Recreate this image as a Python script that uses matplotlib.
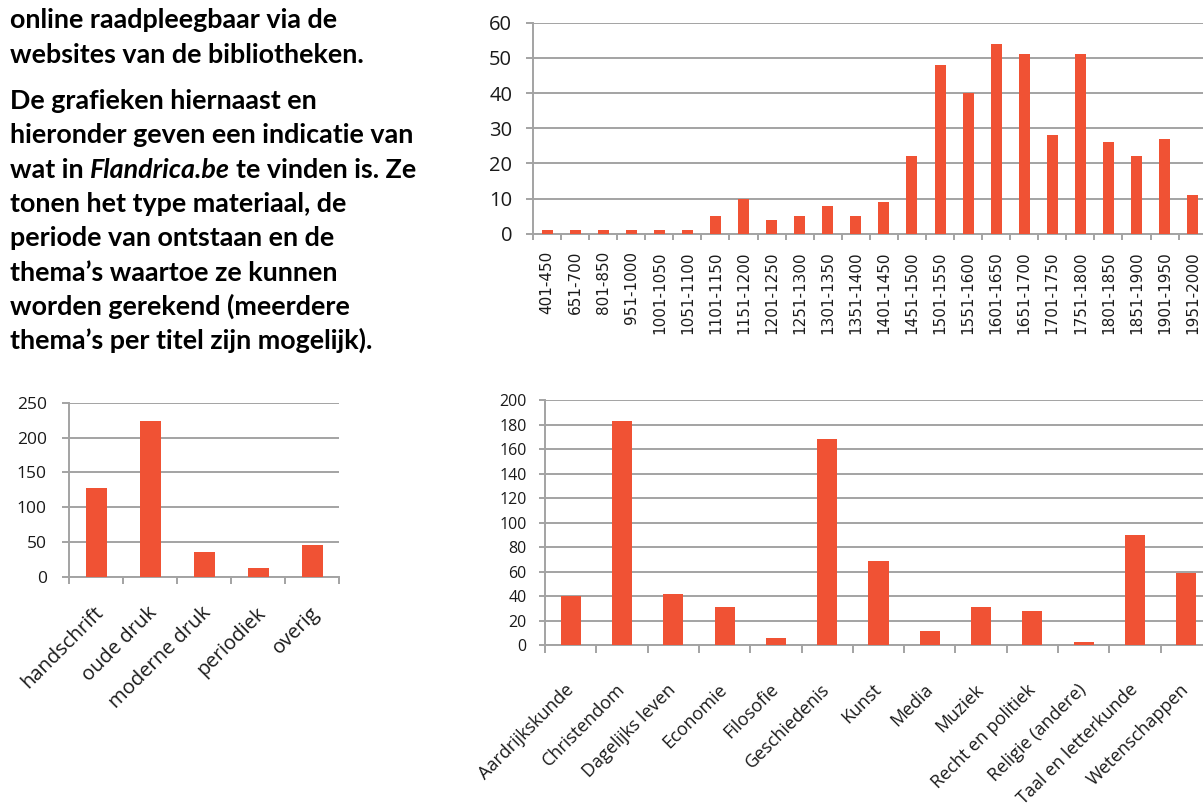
import matplotlib
matplotlib.use("Agg")
import matplotlib.pyplot as plt
import matplotlib.transforms as mtransforms
from matplotlib.text import Annotation

# ---------------- data ----------------
periods = ["401-450", "651-700", "801-850", "951-1000", "1001-1050", "1051-1100",
           "1101-1150", "1151-1200", "1201-1250", "1251-1300", "1301-1350",
           "1351-1400", "1401-1450", "1451-1500", "1501-1550", "1551-1600",
           "1601-1650", "1651-1700", "1701-1750", "1751-1800", "1801-1850",
           "1851-1900", "1901-1950", "1951-2000"]
period_counts = [1, 1, 1, 1, 1, 1, 5, 10, 4, 5, 8, 5, 9, 22, 48, 40, 54, 51,
                 28, 51, 26, 22, 27, 11]

types = ["handschrift", "oude druk", "moderne druk", "periodiek", "overig"]
type_counts = [128, 223, 35, 13, 45]

themes = ["Aardrijkskunde", "Christendom", "Dagelijks leven", "Economie",
          "Filosofie", "Geschiedenis", "Kunst", "Media", "Muziek",
          "Recht en politiek", "Religie (andere)", "Taal en letterkunde",
          "Wetenschappen"]
theme_counts = [40, 183, 42, 31, 6, 168, 69, 12, 31, 28, 3, 90, 59]

para1 = ["online raadpleegbaar via de",
         "websites van de bibliotheken."]
para2_a = ["De grafieken hiernaast en",
           "hieronder geven een indicatie van"]
line_mixed = ("wat in", "Flandrica.be", "te vinden is. Ze")
para2_b = ["tonen het type materiaal, de",
           "periode van ontstaan en de",
           "thema\u2019s waartoe ze kunnen",
           "worden gerekend (meerdere",
           "thema\u2019s per titel zijn mogelijk)."]

# ---------------- style ----------------
W, H = 1203, 805
BAR = "#F05234"
GRID = "#A3A3A3"
TXT = "#1a1a1a"
TICKFONT = "Open Sans"
NARROW = ["Liberation Sans Narrow", "DejaVu Sans"]

fig = plt.figure(figsize=(W / 100, H / 100), dpi=100)
fig.patch.set_facecolor("white")


def px_axes(l, t, r, b):
    return fig.add_axes([l / W, 1 - b / H, (r - l) / W, (b - t) / H])


def bar_chart(ax, cats, vals, ymax, ystep, yfs, ypad, ylen, xlen):
    n = len(cats)
    xs = list(range(n))
    ax.bar(xs, vals, width=0.39, color=BAR, zorder=3)
    ax.set_xlim(-0.5, n - 0.5)
    ax.set_ylim(0, ymax)
    ax.set_yticks(list(range(0, ymax + 1, ystep)))
    ax.yaxis.grid(True, color=GRID, lw=1.4)
    ax.set_axisbelow(True)
    for s in ["top", "right"]:
        ax.spines[s].set_visible(False)
    for s in ["left", "bottom"]:
        ax.spines[s].set_color(GRID)
        ax.spines[s].set_linewidth(1.4)
    ax.tick_params(axis="y", length=ylen, width=1.4, color=GRID, pad=ypad,
                   labelsize=yfs, labelcolor=TXT)
    for lbl in ax.get_yticklabels():
        lbl.set_fontfamily(TICKFONT)
    ax.set_xticks(xs)
    ax.set_xticks([i - 0.5 for i in range(n + 1)], minor=True)
    ax.tick_params(axis="x", which="minor", length=xlen, width=1.4, color=GRID)
    ax.set_facecolor("none")


# top chart: period
ax1 = px_axes(533, 22.7, 1206.7, 233.7)
bar_chart(ax1, periods, period_counts, 60, 10, 14.5, 10, 5, 4.5)
ax1.set_xticklabels(periods, rotation=90, va="top", ha="center",
                    family=NARROW, fontsize=11, color=TXT)
ax1.tick_params(axis="x", which="major", length=0, pad=12.5)

# bottom-left: type
ax2 = px_axes(69.3, 402.7, 339.3, 576.7)
bar_chart(ax2, types, type_counts, 250, 50, 12.5, 11.5, 4.8, 4.8)
ax2.set_xticklabels(types, rotation=45, ha="right", va="center",
                    rotation_mode="anchor", family=TICKFONT, fontsize=14.5,
                    color=TXT)
ax2.tick_params(axis="x", which="major", length=0, pad=24)

# bottom-right: theme
ax3 = px_axes(545, 400, 1212, 645.3)
bar_chart(ax3, themes, theme_counts, 200, 20, 11.5, 8.6, 4.5, 5.8)
ax3.set_xticklabels(themes, rotation=45, ha="right", va="center",
                    rotation_mode="anchor", family=TICKFONT, fontsize=13,
                    color=TXT)
ax3.tick_params(axis="x", which="major", length=0, pad=30)

shift = mtransforms.ScaledTranslation(0.04, 0, fig.dpi_scale_trans)
for lbl in ax2.xaxis.get_majorticklabels():
    lbl.set_transform(lbl.get_transform() + shift)

# ---------------- text block ----------------
FS = 19.4
BODY = dict(family="Lato", weight="bold", fontsize=FS, color="black",
            va="baseline", ha="left")
X0 = 10
LS = 34.3


def put(y, s, **kw):
    d = dict(BODY)
    d.update(kw)
    return fig.text(X0 / W, 1 - y / H, s, **d)


put(28.5, para1[0])
put(28.5 + LS, para1[1])
y = 109
for s in para2_a:
    put(y, s)
    y += LS
t1 = put(y, line_mixed[0])
space_pt = 4.6
a2 = Annotation(line_mixed[1], xy=(1, 0), xycoords=t1,
                xytext=(space_pt, 0), textcoords="offset points",
                family="Lato", weight="bold", style="italic", fontsize=FS,
                va="bottom", ha="left")
fig.add_artist(a2)
a3 = Annotation(line_mixed[2], xy=(1, 0), xycoords=a2,
                xytext=(space_pt, 0), textcoords="offset points",
                family="Lato", weight="bold", fontsize=FS,
                va="bottom", ha="left")
fig.add_artist(a3)
y += LS
for s in para2_b:
    put(y, s)
    y += LS

fig.savefig("out.png", dpi=100)
